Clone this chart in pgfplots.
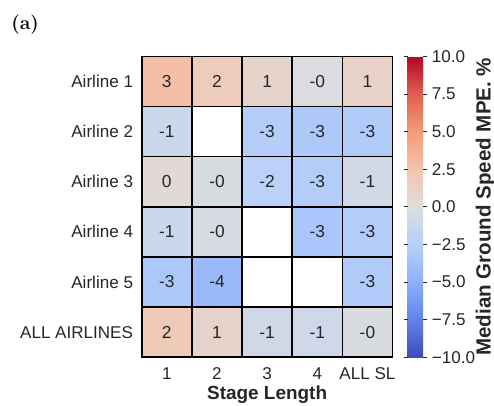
\documentclass[border=0pt]{standalone}
\usepackage{fontspec}
\setsansfont{Liberation Sans}
\usepackage{pgfplots}
\pgfplotsset{compat=1.18}
\usepackage{pgfplotstable}
\definecolor{txt}{RGB}{38,38,38}
\pgfplotsset{colormap={coolwarm}{rgb255(0)=(59,76,192) rgb255(1)=(98,130,234) rgb255(2)=(141,176,254) rgb255(3)=(184,208,249) rgb255(4)=(221,221,221) rgb255(5)=(245,196,173) rgb255(6)=(244,154,123) rgb255(7)=(222,96,77) rgb255(8)=(180,4,38)}}
\pgfplotstableread{
x y c lbl
0 0 2.8 3
1 0 1.8 2
2 0 0.9 1
3 0 -0.2 -0
4 0 1.2 1
0 1 -1.2 -1
2 1 -2.7 -3
3 1 -3.1 -3
4 1 -2.9 -3
0 2 0.4 0
1 2 -0.3 -0
2 2 -2.3 -2
3 2 -2.8 -3
4 2 -0.8 -1
0 3 -1.2 -1
1 3 -0.4 -0
3 3 -3.3 -3
4 3 -2.8 -3
0 4 -3.2 -3
1 4 -4.2 -4
4 4 -2.9 -3
0 5 1.9 2
1 5 0.9 1
2 5 -0.9 -1
3 5 -1.0 -1
4 5 -0.3 -0
}\cells
\pgfplotstableread{
x y
1 1
2 3
2 4
3 4
}\nancells
\begin{document}
\begin{tikzpicture}
\useasboundingbox (0,0) rectangle (370.5pt,303.75pt);
\node[font=\rmfamily\bfseries\fontsize{14.5}{16}\selectfont, text=black] at (18.9pt,285pt) {(a)};
\begin{axis}[
  at={(106.3pt,35.8pt)}, anchor=south west,
  scale only axis, x=37.62pt, y=37.62pt, y dir=reverse,
  xmin=-0.5, xmax=4.5, ymin=-0.5, ymax=5.5,
  clip=false,
  axis line style={draw=none},
  major tick length=0pt,
  xtick={0,1,2,3,4}, xticklabels={1,2,3,4,ALL SL},
  ytick={0,1,2,3,4,5}, yticklabels={Airline 1,Airline 2,Airline 3,Airline 4,Airline 5,ALL AIRLINES},
  tick label style={font=\sffamily\fontsize{12.8}{15}\selectfont, text=txt},
  yticklabel style={xshift=-3pt},
  xticklabel style={yshift=-4.5pt},
  xlabel={Stage Length},
  xlabel style={font=\sffamily\bfseries\fontsize{14.2}{16}\selectfont, text=txt, yshift=2.5pt},
  colormap name=coolwarm,
  point meta min=-10, point meta max=10,
  colorbar,
  colorbar style={
    at={(parent axis.north east)}, anchor=north west, xshift=2.8pt,
    width=11.6pt,
    axis line style={draw=none},
    ytick={-10,-7.5,-5,-2.5,0,2.5,5,7.5,10},
    yticklabels={−10.0,−7.5,−5.0,−2.5,0.0,2.5,5.0,7.5,10.0},
    yticklabel pos=right,
    tick align=outside,
    major tick length=3pt,
    tick style={color=txt, line width=0.6pt},
    yticklabel style={font=\sffamily\fontsize{12.8}{15}\selectfont, text=txt},
    ylabel={Median Ground Speed MPE. \%},
    ylabel style={font=\sffamily\bfseries\fontsize{15.4}{17}\selectfont, text=txt,
      at={(axis description cs:4.39,0.5)}, anchor=north, inner sep=0pt},
  },
]
\addplot[only marks, mark=square*, mark size=18.81pt, line width=1.2pt, draw=black, fill=white] table[x=x,y=y] {\nancells};
\addplot[scatter, only marks, mark=square*, mark size=18.81pt, line width=1.2pt,
  scatter/use mapped color={draw=black, fill=mapped color},
  point meta=explicit] table[x=x,y=y,meta=c] {\cells};
\addplot[only marks, mark=none, point meta=explicit symbolic,
  nodes near coords, nodes near coords align={center},
  every node near coord/.append style={font=\sffamily\fontsize{13}{15}\selectfont, text=txt, anchor=center},
] table[x=x,y=y,meta=lbl] {\cells};
\end{axis}
\end{tikzpicture}
\end{document}
